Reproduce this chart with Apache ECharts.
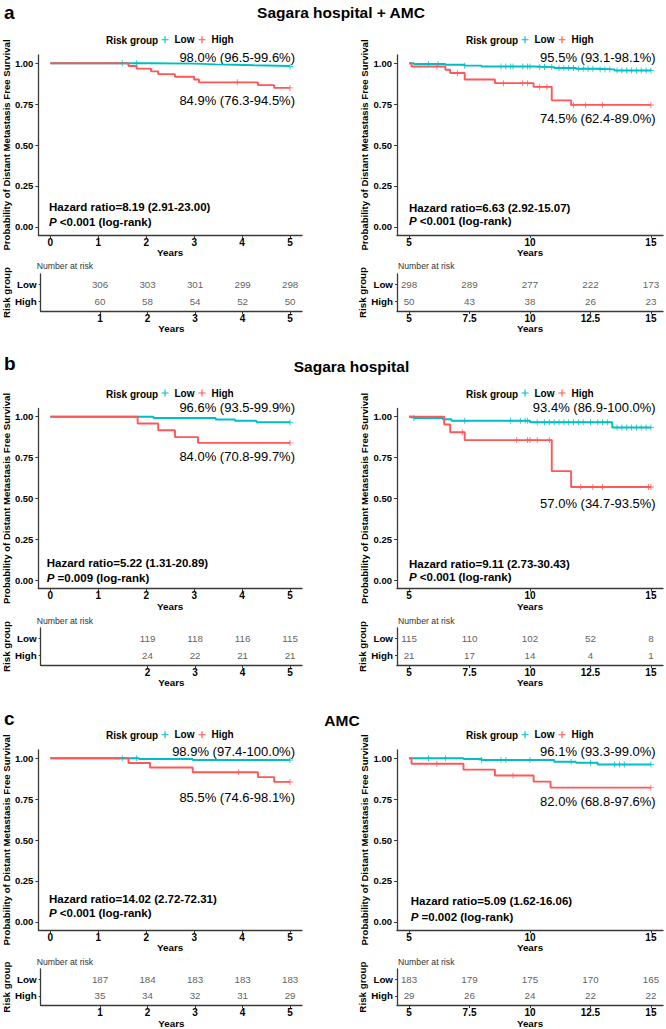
<!DOCTYPE html>
<html><head><meta charset="utf-8">
<script src="https://cdn.jsdelivr.net/npm/echarts@6.0.0/dist/echarts.min.js"></script>
<style>html,body{margin:0;padding:0;background:#fff}#c{width:666px;height:1029px}</style>
</head><body><div id="c"></div>
<script>
// ---------- DATA ----------
// a) Sagara hospital + AMC, 0–5 years
const aL_lowTime  = [0, 2.1, 3.0, 3.45, 3.85, 4.25, 5];
const aL_lowSurv  = [1, 0.997, 0.993, 0.99, 0.987, 0.983, 0.98];
const aL_lowCens  = [1.5, 1.8, 5];
const aL_highTime = [0, 1.63, 1.8, 2.1, 2.25, 2.6, 3.0, 3.1, 4.33, 4.67, 5];
const aL_highSurv = [1, 0.983, 0.967, 0.95, 0.933, 0.917, 0.9, 0.883, 0.866, 0.849, 0.849];
const aL_highCens = [3.9, 5];
const aL_riskTimes = [1, 2, 3, 4, 5];
const aL_riskLow  = [306, 303, 301, 299, 298];
const aL_riskHigh = [60, 58, 54, 52, 50];
// a) 5–15 years
const aR_lowTime  = [5, 5.2, 6.5, 7.3, 8.0, 10.2, 11.0, 11.9, 12.8, 13.5, 15];
const aR_lowSurv  = [1, 0.995, 0.99, 0.985, 0.98, 0.976, 0.971, 0.966, 0.962, 0.955, 0.955];
const aR_lowCens  = [5.8, 6.2, 7.3, 8.8, 9.0, 9.2, 9.3, 9.7, 9.9, 10.0, 10.4, 10.6, 10.9, 11.2, 11.4, 11.6, 11.8, 12.0, 12.2, 12.4, 12.6, 12.9, 13.1, 13.3, 13.6, 13.8, 14.0, 14.2, 14.4, 14.6, 14.8, 15.0];
const aR_highTime = [5, 5.1, 6.5, 6.7, 7.3, 8.55, 10.15, 10.9, 11.7, 15];
const aR_highSurv = [1, 0.98, 0.96, 0.94, 0.90, 0.878, 0.855, 0.773, 0.745, 0.745];
const aR_highCens = [6.15, 7.0, 8.9, 9.7, 9.9, 10.4, 10.7, 11.8, 12.3, 13.0, 15];
const aR_riskTimes = [5, 7.5, 10, 12.5, 15];
const aR_riskLow  = [298, 289, 277, 222, 173];
const aR_riskHigh = [50, 43, 38, 26, 23];
// b) Sagara hospital, 0–5 years
const bL_lowTime  = [0, 2.15, 3.45, 3.85, 4.3, 5];
const bL_lowSurv  = [1, 0.992, 0.983, 0.975, 0.966, 0.966];
const bL_lowCens  = [5];
const bL_highTime = [0, 1.82, 2.25, 2.6, 3.08, 5];
const bL_highSurv = [1, 0.958, 0.917, 0.875, 0.84, 0.84];
const bL_highCens = [5];
const bL_riskTimes = [2, 3, 4, 5];
const bL_riskLow  = [119, 118, 116, 115];
const bL_riskHigh = [24, 22, 21, 21];
// b) 5–15 years
const bR_lowTime  = [5, 5.2, 6.4, 6.75, 10.0, 13.4, 15];
const bR_lowSurv  = [1, 0.992, 0.984, 0.975, 0.966, 0.934, 0.934];
const bR_lowCens  = [5.2, 7.3, 9.2, 9.6, 9.8, 9.9, 10.3, 10.6, 10.8, 11.0, 11.2, 11.4, 11.6, 11.8, 12.0, 12.2, 12.5, 12.8, 13.0, 13.2, 13.6, 13.8, 14.0, 14.2, 14.4, 14.6, 14.8, 15.0];
const bR_highTime = [5, 6.45, 6.7, 7.3, 10.9, 11.7, 15];
const bR_highSurv = [1, 0.952, 0.905, 0.857, 0.667, 0.57, 0.57];
const bR_highCens = [7.2, 9.45, 9.9, 10.0, 10.3, 10.8, 12.1, 12.6, 13.0, 14.9, 15];
const bR_riskTimes = [5, 7.5, 10, 12.5, 15];
const bR_riskLow  = [115, 110, 102, 52, 8];
const bR_riskHigh = [21, 17, 14, 4, 1];
// c) AMC, 0–5 years
const cL_lowTime  = [0, 1.85, 2.97, 5];
const cL_lowSurv  = [1, 0.995, 0.989, 0.989];
const cL_lowCens  = [1.5, 1.8, 5];
const cL_highTime = [0, 1.63, 2.08, 2.97, 4.33, 4.67, 5];
const cL_highSurv = [1, 0.971, 0.943, 0.914, 0.884, 0.855, 0.855];
const cL_highCens = [3.93, 5];
const cL_riskTimes = [1, 2, 3, 4, 5];
const cL_riskLow  = [187, 184, 183, 183, 183];
const cL_riskHigh = [35, 34, 32, 31, 29];
// c) 5–15 years
const cR_lowTime  = [5, 7.25, 8.0, 11.0, 11.9, 12.8, 15];
const cR_lowSurv  = [1, 0.995, 0.989, 0.978, 0.972, 0.961, 0.961];
const cR_lowCens  = [5.8, 6.5, 8.0, 8.8, 9.0, 10.0, 11.7, 12.5, 13.5, 13.7, 13.9, 15];
const cR_highTime = [5, 5.1, 7.25, 8.55, 10.15, 10.85, 15];
const cR_highSurv = [1, 0.966, 0.93, 0.894, 0.857, 0.82, 0.82];
const cR_highCens = [6.15, 9.3, 15];
const cR_riskTimes = [5, 7.5, 10, 12.5, 15];
const cR_riskLow  = [183, 179, 175, 170, 165];
const cR_riskHigh = [29, 26, 24, 22, 22];

const ticksEarly = [0, 1, 2, 3, 4, 5];
const ticksLate  = [5, 10, 15];
const yTicks = [0, 0.25, 0.5, 0.75, 1];

const panelLetters = ['a', 'b', 'c'];
const panelTitles = ['Sagara hospital + AMC', 'Sagara hospital', 'AMC'];
const annLow  = ['98.0% (96.5-99.6%)', '95.5% (93.1-98.1%)', '96.6% (93.5-99.9%)', '93.4% (86.9-100.0%)', '98.9% (97.4-100.0%)', '96.1% (93.3-99.0%)'];
const annHigh = ['84.9% (76.3-94.5%)', '74.5% (62.4-89.0%)', '84.0% (70.8-99.7%)', '57.0% (34.7-93.5%)', '85.5% (74.6-98.1%)', '82.0% (68.8-97.6%)'];
const hazardText = ['Hazard ratio=8.19 (2.91-23.00)', 'Hazard ratio=6.63 (2.92-15.07)', 'Hazard ratio=5.22 (1.31-20.89)', 'Hazard ratio=9.11 (2.73-30.43)', 'Hazard ratio=14.02 (2.72-72.31)', 'Hazard ratio=5.09 (1.62-16.06)'];
const pText = ['<0.001', '<0.001', '=0.009', '<0.001', '<0.001', '=0.002'];

// ---------- LAYOUT ----------
const FONT = 'Liberation Sans, Arial, Helvetica, sans-serif';
const TEAL = '#00BFC4', RED = '#FF5757', AX = '#3a3a3a';
const cols = [
  { left: 36.7, width: 265.3, min: -0.25, max: 5.25, textR: 295, hzX: 49 , nar: 36.7, legIcon: 161.5, legTxt: 106 },
  { left: 397, width: 266, min: 4.5, max: 15.5, textR: 655.7, hzX: 409, nar: 398, legIcon: 521.5, legTxt: 466 }
];
const rows = [
  { kmTop: 55, tabTop: 274, letterY: 12, titleY: 12, titleX: 341, legY: 40.7, narY: 266 },
  { kmTop: 408.5, tabTop: 628, letterY: 363.3, titleY: 366.7, titleX: 351.5, legY: 394, narY: 620.7 },
  { kmTop: 750, tabTop: 969, letterY: 718.3, titleY: 720.7, titleX: 342, legY: 735.7, narY: 961.7 }
];
const annLowY  = [57.3, 57.3, 407.3, 407.3, 751, 751];
const annHighY = [100, 118.3, 456.7, 503.3, 797.3, 801.7];
const hzY = [206.7, 207.7, 562.7, 564, 899.3, 901];
const pY  = [221.7, 221, 577.7, 577.3, 912.7, 916.7];

const panels = [
  [aL_lowTime, aL_lowSurv, aL_lowCens, aL_highTime, aL_highSurv, aL_highCens, aL_riskTimes, aL_riskLow, aL_riskHigh, ticksEarly],
  [aR_lowTime, aR_lowSurv, aR_lowCens, aR_highTime, aR_highSurv, aR_highCens, aR_riskTimes, aR_riskLow, aR_riskHigh, ticksLate],
  [bL_lowTime, bL_lowSurv, bL_lowCens, bL_highTime, bL_highSurv, bL_highCens, bL_riskTimes, bL_riskLow, bL_riskHigh, ticksEarly],
  [bR_lowTime, bR_lowSurv, bR_lowCens, bR_highTime, bR_highSurv, bR_highCens, bR_riskTimes, bR_riskLow, bR_riskHigh, ticksLate],
  [cL_lowTime, cL_lowSurv, cL_lowCens, cL_highTime, cL_highSurv, cL_highCens, cL_riskTimes, cL_riskLow, cL_riskHigh, ticksEarly],
  [cR_lowTime, cR_lowSurv, cR_lowCens, cR_highTime, cR_highSurv, cR_highCens, cR_riskTimes, cR_riskLow, cR_riskHigh, ticksLate]
];

function survAt(T, S, t) {
  let v = S[0];
  for (let i = 0; i < T.length; i++) { if (T[i] <= t + 1e-9) v = S[i]; }
  return v;
}
const PLUS = 'path://M4.2,0H5.8V4.2H10V5.8H5.8V10H4.2V5.8H0V4.2H4.2Z';
const LEGICON = 'path://M0,4.2H10V5.8H0Z M4.2,0H5.8V10H4.2Z';
const boldTxt = (size) => ({ color: '#000', fontWeight: 'bold', fontSize: size, fontFamily: FONT });

const grid = [], xAxis = [], yAxis = [], series = [], graphic = [], legend = [];

panels.forEach((p, i) => {
  const [lT, lS, lC, hT, hS, hC, rT, rL, rH, kmTicks] = p;
  const r = rows[Math.floor(i / 2)], c = cols[i % 2];
  const gk = 2 * i, gt = 2 * i + 1;
  grid.push({ left: c.left, top: r.kmTop, width: c.width, height: 180 });
  grid.push({ left: c.left, top: r.tabTop, width: c.width, height: 37 });
  const xBase = (ticks, gap, gi) => ({
    gridIndex: gi, type: 'value', min: c.min, max: c.max,
    axisLine: { show: true, onZero: false, lineStyle: { color: AX, width: 1.3 } },
    axisTick: { show: true, customValues: ticks, length: 3, lineStyle: { color: AX } },
    axisLabel: Object.assign({ customValues: ticks, margin: 2 }, boldTxt(10)),
    splitLine: { show: false },
    name: 'Years', nameLocation: 'middle', nameGap: gap, nameTextStyle: boldTxt(9.8)
  });
  xAxis.push(xBase(kmTicks, 11, gk));
  xAxis.push(xBase(rT, 12, gt));
  yAxis.push({
    gridIndex: gk, type: 'value', min: -0.05, max: 1.05,
    axisLine: { show: true, onZero: false, lineStyle: { color: AX, width: 1.3 } },
    axisTick: { show: true, customValues: yTicks, length: 3, lineStyle: { color: AX } },
    axisLabel: Object.assign({ customValues: yTicks, margin: 5, formatter: v => Number(v).toFixed(2) }, boldTxt(9.5)),
    splitLine: { show: false },
    name: 'Probability of Distant Metastasis Free Survival', nameLocation: 'middle', nameGap: 25,
    nameTextStyle: boldTxt(9.6)
  });
  yAxis.push({
    gridIndex: gt, type: 'value', min: 0.45, max: 2.6,
    axisLine: { show: true, onZero: false, lineStyle: { color: AX, width: 1.3 } },
    axisTick: { show: true, customValues: [1, 2], length: 2, lineStyle: { color: AX } },
    axisLabel: Object.assign({ customValues: [1, 2], margin: 4, formatter: v => (v > 1.5 ? 'Low' : 'High') }, boldTxt(9.8)),
    splitLine: { show: false },
    name: 'Risk group', nameLocation: 'middle', nameGap: 25, nameTextStyle: boldTxt(9.8)
  });
  series.push({
    type: 'line', name: 'Low', xAxisIndex: gk, yAxisIndex: gk, step: 'end', symbol: 'none', silent: true, z: 2,
    lineStyle: { color: TEAL, width: 1.9 }, itemStyle: { color: TEAL },
    data: lT.map((t, k) => [t, lS[k]])
  });
  series.push({
    type: 'line', name: 'High', xAxisIndex: gk, yAxisIndex: gk, step: 'end', symbol: 'none', silent: true, z: 3,
    lineStyle: { color: RED, width: 1.9 }, itemStyle: { color: RED },
    data: hT.map((t, k) => [t, hS[k]])
  });
  series.push({
    type: 'scatter', name: 'Low censored', xAxisIndex: gk, yAxisIndex: gk, symbol: PLUS, symbolSize: 6, silent: true, z: 4,
    itemStyle: { color: TEAL }, data: lC.map(t => [t, survAt(lT, lS, t)])
  });
  series.push({
    type: 'scatter', name: 'High censored', xAxisIndex: gk, yAxisIndex: gk, symbol: PLUS, symbolSize: 6, silent: true, z: 5,
    itemStyle: { color: RED }, data: hC.map(t => [t, survAt(hT, hS, t)])
  });
  series.push({
    type: 'scatter', name: 'Number at risk', xAxisIndex: gt, yAxisIndex: gt, symbolSize: 1, silent: true,
    itemStyle: { color: 'rgba(0,0,0,0)' },
    label: { show: true, position: 'inside', formatter: q => q.value[2], color: '#333', fontSize: 9.8, fontFamily: FONT },
    data: rT.map((t, k) => [t, 2, rL[k]]).concat(rT.map((t, k) => [t, 1, rH[k]]))
  });
  legend.push({
    left: c.legIcon, top: r.legY - 6, padding: 0, itemWidth: 9, itemHeight: 7, itemGap: 4, itemStyle: {},
    data: [{ name: 'Low', icon: LEGICON }, { name: 'High', icon: LEGICON }],
    textStyle: boldTxt(10), selectedMode: false
  });
  graphic.push({ type: 'text', x: c.legTxt, y: r.legY, silent: true,
    style: { text: 'Risk group', fontSize: 10, fontWeight: 'bold', fontFamily: FONT, fill: '#000', align: 'left', verticalAlign: 'middle' } });
  graphic.push({ type: 'text', x: c.textR, y: annLowY[i], silent: true,
    style: { text: annLow[i], fontSize: 13, fontFamily: FONT, fill: '#000', align: 'right', verticalAlign: 'middle' } });
  graphic.push({ type: 'text', x: c.textR, y: annHighY[i], silent: true,
    style: { text: annHigh[i], fontSize: 13, fontFamily: FONT, fill: '#000', align: 'right', verticalAlign: 'middle' } });
  const hx = (i === 2) ? 46.7 : (i === 5 ? 410.7 : c.hzX);
  graphic.push({ type: 'text', x: hx, y: hzY[i], silent: true,
    style: { text: hazardText[i], fontSize: 11.5, fontWeight: 'bold', fontFamily: FONT, fill: '#000', align: 'left', verticalAlign: 'middle' } });
  graphic.push({ type: 'text', x: hx, y: pY[i], silent: true,
    style: { text: '{i|P} ' + pText[i] + ' (log-rank)', fontSize: 11.5, fontWeight: 'bold', fontFamily: FONT, fill: '#000', align: 'left', verticalAlign: 'middle',
      rich: { i: { fontStyle: 'italic', fontWeight: 'bold', fontSize: 11.5, fontFamily: FONT, fill: '#000' } } } });
  graphic.push({ type: 'text', x: c.nar, y: r.narY, silent: true,
    style: { text: 'Number at risk', fontSize: 8.7, fontFamily: FONT, fill: '#333', align: 'left', verticalAlign: 'middle' } });
});

rows.forEach((r, k) => {
  graphic.push({ type: 'text', x: 4, y: r.letterY, silent: true,
    style: { text: panelLetters[k], fontSize: 19, fontWeight: 'bold', fontFamily: FONT, fill: '#000', align: 'left', verticalAlign: 'middle' } });
  graphic.push({ type: 'text', x: r.titleX, y: r.titleY, silent: true,
    style: { text: panelTitles[k], fontSize: 15.5, fontWeight: 'bold', fontFamily: FONT, fill: '#000', align: 'center', verticalAlign: 'middle' } });
});

const chart = echarts.init(document.getElementById('c'), null, { renderer: 'svg', width: 666, height: 1029 });
chart.setOption({
  backgroundColor: '#fff',
  animation: false,
  textStyle: { fontFamily: FONT },
  grid, xAxis, yAxis, series, legend, graphic
});
</script></body></html>
